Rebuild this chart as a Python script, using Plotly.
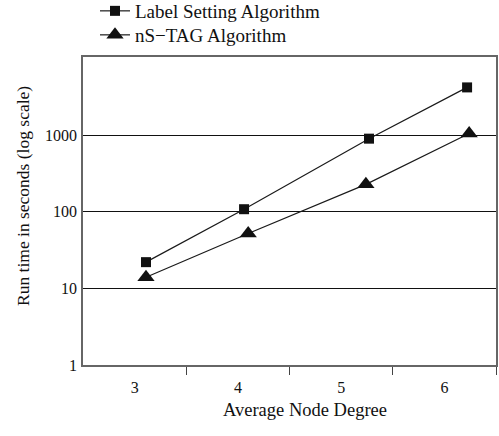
import plotly.graph_objects as go

degree_ls = [3.11, 4.06, 5.27, 6.22]
time_ls = [22, 108, 900, 4200]
degree_ns = [3.11, 4.10, 5.24, 6.24]
time_ns = [14, 52, 228, 1050]

x_ticks = [3, 4, 5, 6]
x_tick_text = ["3", "4", "5", "6"]
x_boundaries = [3.5, 4.5, 5.5, 6.5]
y_ticks = [1, 10, 100, 1000]
y_tick_text = ["1", "10", "100", "1000"]

FONT = "Liberation Serif, Times New Roman, serif"
W, H = 499, 436
ML, MR, MT, MB = 83, 3, 57, 71
PW, PH = W - ML - MR, H - MT - MB

fig = go.Figure()
fig.add_trace(go.Scatter(
    x=degree_ls, y=time_ls, mode="lines+markers",
    name="Label Setting Algorithm", legend="legend",
    line=dict(color="#1a1a1a", width=1.2),
    marker=dict(symbol="square", size=10, color="#111111"),
))
fig.add_trace(go.Scatter(
    x=degree_ns, y=time_ns, mode="lines+markers",
    name="nS\u2212TAG Algorithm", legend="legend2",
    line=dict(color="#1a1a1a", width=1.2),
    marker=dict(symbol="triangle-up", size=15, color="#111111"),
))

leg_common = dict(
    xref="container", yref="container", xanchor="left", yanchor="middle",
    font=dict(size=19, family=FONT, color="#111111"),
    bgcolor="rgba(0,0,0,0)", borderwidth=0,
)

fig.update_layout(
    width=W, height=H,
    margin=dict(l=ML, r=MR, t=MT, b=MB, autoexpand=False),
    paper_bgcolor="white", plot_bgcolor="white",
    font=dict(family=FONT, size=16, color="#111111"),
    showlegend=True,
    legend=dict(x=95 / W, y=1 - 11 / H, **leg_common),
    legend2=dict(x=95 / W, y=1 - 35 / H, **leg_common),
    annotations=[
        dict(text="Run time in seconds (log scale)", textangle=-90,
             xref="paper", yref="paper", x=0, y=(MT + PH - 196) / PH,
             xanchor="center", yanchor="middle", xshift=-(ML - 23),
             showarrow=False, font=dict(size=17.5, family=FONT, color="#111111")),
        dict(text="Average Node Degree",
             xref="paper", yref="paper", x=(305 - ML) / PW, y=0,
             xanchor="center", yanchor="middle", yshift=-(410 - (MT + PH)),
             showarrow=False, font=dict(size=18.5, family=FONT, color="#111111")),
    ],
)

fig.update_xaxes(
    range=[2.5, 6.5],
    tickvals=x_ticks, ticktext=x_tick_text, ticks="",
    showgrid=False, zeroline=False,
    showline=True, linecolor="#666666", linewidth=1.5, mirror=True,
    minor=dict(tickvals=x_boundaries, ticks="outside", ticklen=8,
               tickcolor="#444444", tickwidth=1, showgrid=False),
    tickfont=dict(size=16, family=FONT),
    ticklabelstandoff=7,
)
fig.update_yaxes(
    type="log", range=[0, 4.02],
    tickvals=y_ticks, ticktext=y_tick_text, ticks="",
    showgrid=True, gridcolor="#111111", gridwidth=1,
    zeroline=False,
    showline=True, linecolor="#666666", linewidth=1.5, mirror=True,
    tickfont=dict(size=16, family=FONT),
    ticklabelstandoff=1,
)

fig.write_html("out.html")
